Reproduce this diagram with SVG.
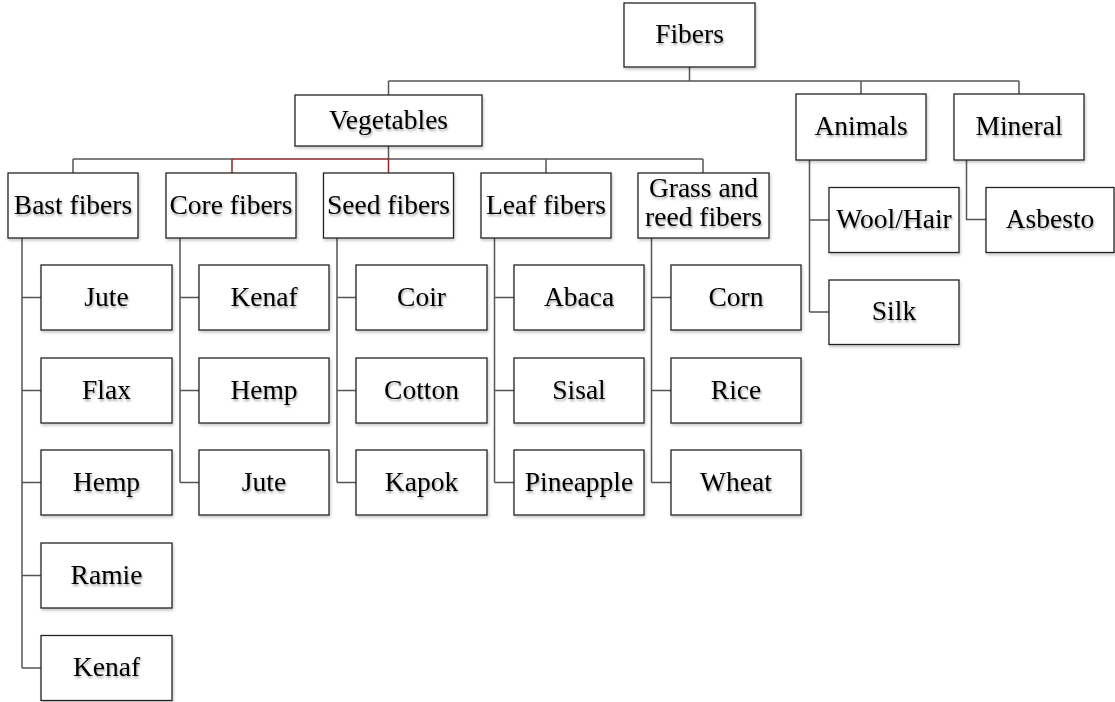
<svg xmlns="http://www.w3.org/2000/svg" width="1115" height="702" viewBox="0 0 1115 702">
<defs>
<filter id="bs" x="-10%" y="-10%" width="125%" height="130%"><feDropShadow dx="1" dy="2" stdDeviation="1.8" flood-color="#000" flood-opacity="0.22"/></filter>
<filter id="ts" x="-10%" y="-20%" width="125%" height="150%"><feDropShadow dx="1" dy="2" stdDeviation="1.2" flood-color="#000" flood-opacity="0.35"/></filter>
</defs>
<style>
rect{fill:#fff;stroke:#222;stroke-width:1.3;filter:url(#bs)}
text{font-family:"Liberation Serif","Times New Roman",serif;font-size:27.5px;fill:#000;text-anchor:middle;filter:url(#ts)}
.c path{fill:none;stroke:#555;stroke-width:1.5}
.c path.r{stroke:#8b2a2a}
</style>
<g class="c" id="connectors">
<path d="M689.5 67V81M388.5 81H1019M388.5 81V95M861 81V94M1019 81V94"/>
<path d="M388.5 146V159M73 159H232M388.5 159H703M73 159V173M546 159V173M703 159V173"/>
<path class="r" d="M232 159H388.5M232 159V173M388.5 159V173"/>
<path d="M22 238V668M22 297.5H41M22 390.5H41M22 482.5H41M22 575.5H41M22 668H41"/>
<path d="M180 238V482.5M180 297.5H199M180 390.5H199M180 482.5H199"/>
<path d="M337 238V482.5M337 297.5H356M337 390.5H356M337 482.5H356"/>
<path d="M494.5 238V482.5M494.5 297.5H514M494.5 390.5H514M494.5 482.5H514"/>
<path d="M651.5 238V482.5M651.5 297.5H671M651.5 390.5H671M651.5 482.5H671"/>
<path d="M809.5 160V312M809.5 220H829M809.5 312H829"/>
<path d="M966.5 160V219.5H986"/>
</g>
<g id="fibers"><rect x="624" y="3" width="131" height="64"/><text x="689.5" y="43">Fibers</text></g>
<g id="vegetables"><rect x="295" y="95" width="187" height="51"/><text x="388.5" y="128.5">Vegetables</text></g>
<g id="animals"><rect x="796" y="94" width="130" height="66"/><text x="861" y="135">Animals</text></g>
<g id="mineral"><rect x="954" y="94" width="130" height="66"/><text x="1019" y="135">Mineral</text></g>
<g id="bast"><rect x="8" y="173" width="130" height="65"/><text x="73" y="213.5">Bast fibers</text></g>
<g id="core"><rect x="166" y="173" width="130" height="65"/><text x="231" y="213.5">Core fibers</text></g>
<g id="seed"><rect x="323.5" y="173" width="130" height="65"/><text x="388.5" y="213.5">Seed fibers</text></g>
<g id="leaf"><rect x="481" y="173" width="130" height="65"/><text x="546" y="213.5">Leaf fibers</text></g>
<g id="grass"><rect x="638" y="173" width="131" height="65"/><text x="703.5" y="197">Grass and</text><text x="703.5" y="226">reed fibers</text></g>
<g id="bast-jute"><rect x="41" y="265" width="131" height="65"/><text x="106.5" y="305.5">Jute</text></g>
<g id="bast-flax"><rect x="41" y="358" width="131" height="65"/><text x="106.5" y="398.5">Flax</text></g>
<g id="bast-hemp"><rect x="41" y="450" width="131" height="65"/><text x="106.5" y="490.5">Hemp</text></g>
<g id="bast-ramie"><rect x="41" y="543" width="131" height="65"/><text x="106.5" y="583.5">Ramie</text></g>
<g id="bast-kenaf"><rect x="41" y="635.5" width="131" height="65"/><text x="106.5" y="676">Kenaf</text></g>
<g id="core-kenaf"><rect x="199" y="265" width="130" height="65"/><text x="264" y="305.5">Kenaf</text></g>
<g id="core-hemp"><rect x="199" y="358" width="130" height="65"/><text x="264" y="398.5">Hemp</text></g>
<g id="core-jute"><rect x="199" y="450" width="130" height="65"/><text x="264" y="490.5">Jute</text></g>
<g id="seed-coir"><rect x="356" y="265" width="131" height="65"/><text x="421.5" y="305.5">Coir</text></g>
<g id="seed-cotton"><rect x="356" y="358" width="131" height="65"/><text x="421.5" y="398.5">Cotton</text></g>
<g id="seed-kapok"><rect x="356" y="450" width="131" height="65"/><text x="421.5" y="490.5">Kapok</text></g>
<g id="leaf-abaca"><rect x="514" y="265" width="130" height="65"/><text x="579" y="305.5">Abaca</text></g>
<g id="leaf-sisal"><rect x="514" y="358" width="130" height="65"/><text x="579" y="398.5">Sisal</text></g>
<g id="leaf-pineapple"><rect x="514" y="450" width="130" height="65"/><text x="579" y="490.5">Pineapple</text></g>
<g id="grass-corn"><rect x="671" y="265" width="130" height="65"/><text x="736" y="305.5">Corn</text></g>
<g id="grass-rice"><rect x="671" y="358" width="130" height="65"/><text x="736" y="398.5">Rice</text></g>
<g id="grass-wheat"><rect x="671" y="450" width="130" height="65"/><text x="736" y="490.5">Wheat</text></g>
<g id="wool"><rect x="829" y="187.5" width="130" height="65"/><text x="894" y="228">Wool/Hair</text></g>
<g id="silk"><rect x="829" y="280" width="130" height="64.5"/><text x="894" y="320">Silk</text></g>
<g id="asbesto"><rect x="986" y="187.5" width="128" height="65"/><text x="1050" y="228">Asbesto</text></g>
</svg>
